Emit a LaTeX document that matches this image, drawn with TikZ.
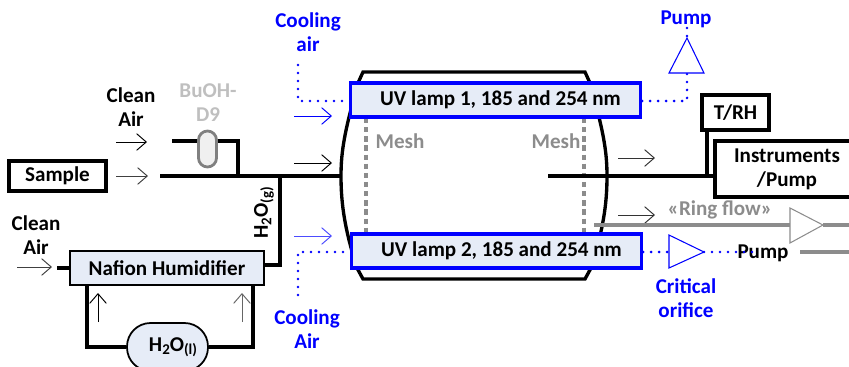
\documentclass[tikz,border=0pt]{standalone}
\usepackage{fontspec}
\setmainfont{Carlito}
\usetikzlibrary{arrows.meta}
\definecolor{lampFill}{HTML}{E6ECF7}
\definecolor{meshGray}{HTML}{8C8C8C}
\definecolor{butanolGray}{HTML}{BFBFBF}
\newcommand{\lowText}[1]{\raisebox{-0.35ex}{\fontsize{8.5}{8.5}\selectfont #1}}
\begin{document}
\begin{tikzpicture}[x=0.02cm,y=-0.02cm,%%
  textStyle/.style={font=\fontsize{12}{13.6}\selectfont\bfseries,align=center,inner sep=0pt},%%
  blueText/.style={textStyle,text=blue},%%
  grayText/.style={textStyle,text=meshGray},%%
  lineStyle/.style={-,line width=1.9pt,line join=miter},%%
  flowStyle/.style={-{Straight Barb[length=5.5pt,width=9.5pt]},line width=0.55pt},%%
  dotStyle/.style={-,blue,line width=1.6pt,line cap=round,dash pattern=on 0pt off 4.55pt},%%
  boxStyle/.style={draw,line width=2.4pt,fill=white,inner sep=0pt,textStyle},%%
  lampStyle/.style={draw=blue,line width=1.9pt,fill=lampFill,inner sep=0pt,textStyle,minimum width=5.8cm,minimum height=0.68cm},%%
  orificeStyle/.style={draw=blue,line width=0.6pt,fill=white}%%
]
%%
\useasboundingbox (0,0) rectangle (849,366);
\clip (0,0) rectangle (849,366);
%%
%% Flow arrows: name/start x/end x/y/colour.
\foreach \name/\xa/\ya/\xb/\yb/\col in {%%
  airIn/116/142/147/142/black,%%
  sampleIn/116/176/148/176/black!75,%%
  humidIn/17/267/52/267/black!75,%%
  loopLeft/98/322/98/293/black,%%
  loopRight/242/322/242/293/black!60,%%
  chamberIn/294/163/332/163/black,%%
  coolTop/294/116/332/116/blue,%%
  coolLow/294/236/332/236/blue!70,%%
  chamberOut/618/158/655/158/black!80,%%
  ringOut/618/215/655/215/black!80%%
}{%%
  \coordinate (\name A) at (\xa,\ya);
  \coordinate (\name B) at (\xb,\yb);
  \draw[flowStyle,\col] (\name A) -- (\name B);
}
%%
\coordinate (sampleLine) at (160,176);
\coordinate (chamberPort) at (342,176);
\coordinate (outPort) at (548,176);
\coordinate (butanolStart) at (172,141);
\coordinate (butanolCorner) at (238,141);
\coordinate (butanolJoin) at (238,176);
\coordinate (waterJoin) at (280,176);
\coordinate (waterCorner) at (280,265);
\coordinate (humidStub) at (57,268);
\coordinate (loopLeftUp) at (87,285);
\coordinate (loopLeftLow) at (87,347);
\coordinate (loopRightUp) at (253,285);
\coordinate (loopRightLow) at (253,347);
\coordinate (sensorDrop) at (707,176);
\coordinate (sensorUp) at (707,130);
%%
%% Draw the chamber.
\draw[lineStyle] (363,72) -- (585,72) -- (590,83)
  .. controls (603,130) and (607,150) .. (607,176)
  .. controls (607,205) and (603,230) .. (591,268) -- (585,279) -- (363,279) -- (357,268)
  .. controls (345,230) and (341,205) .. (341,176)
  .. controls (341,150) and (345,130) .. (358,83) -- cycle;
%%
%% Draw the meshes.
\coordinate (meshLeftTop) at (366,118);
\coordinate (meshLeftLow) at (366,233);
\coordinate (meshRightTop) at (584,118);
\coordinate (meshRightLow) at (584,233);
\draw[meshGray,line width=1.9pt,dash pattern=on 3pt off 2.2pt] (meshLeftTop) -- (meshLeftLow);
\draw[meshGray,line width=1.9pt,dash pattern=on 3pt off 2.2pt] (meshRightTop) -- (meshRightLow);
\node[grayText] (meshLeft) at (400,141) {Mesh};
\node[grayText] (meshRight) at (556,141) {Mesh};
%%
%% Boxes.
\node[boxStyle,minimum width=1.94cm,minimum height=0.6cm] (sample) at (57.5,176) {Sample};
\node[draw,line width=1pt,fill=lampFill,inner sep=0pt,textStyle,minimum width=3.88cm,minimum height=0.68cm] (humidifier) at (167,268) {Nafion Humidifier};
\node[boxStyle,minimum width=1.34cm,minimum height=0.7cm] (sensor) at (735.5,112.5) {T/RH};
\node[boxStyle,minimum width=2.88cm,minimum height=1.12cm] (instruments) at (787,169) {Instruments\\/Pump};
\node[lampStyle] (lampOne) at (495.5,100) {\hspace*{0.2cm}UV lamp 1, 185 and 254 nm};
\node[lampStyle] (lampTwo) at (496.5,251) {\hspace*{0.2cm}UV lamp 2, 185 and 254 nm};
\node[draw,line width=1pt,fill=lampFill,inner sep=0pt,minimum width=1.62cm,minimum height=0.96cm,rounded corners=0.47cm] (water) at (167.5,347) {};
\node[textStyle] (waterLabel) at (173,347) {H\lowText{2}O\lowText{(l)}};
%%
%% Sample and water lines.
\draw[lineStyle] (sampleLine) -- (chamberPort);
\draw[lineStyle] (butanolStart) -- (butanolCorner) -- (butanolJoin);
\draw[lineStyle] (waterJoin) -- (waterCorner) -- (humidifier.east |- waterCorner);
\draw[lineStyle] (humidStub) -- (humidifier.west |- humidStub);
\draw[lineStyle] (loopLeftUp) -- (loopLeftLow) -- (water.west |- loopLeftLow);
\draw[lineStyle] (loopRightUp) -- (loopRightLow) -- (water.east |- loopRightLow);
\draw[lineStyle] (outPort) -- (instruments.west |- outPort);
\draw[lineStyle] (sensorDrop) -- (sensorUp);
%%
%% The butanol vessel.
\node[draw=black!50,line width=1.6pt,fill=black!6,minimum width=0.36cm,minimum height=0.72cm,rounded corners=0.18cm,inner sep=0pt] (butanol) at (207.5,149) {};
%%
%% The ring flow line, with its pump.
\coordinate (ringStart) at (594,225);
\coordinate (ringTipA) at (790,208);
\coordinate (ringTipB) at (790,243);
\coordinate (ringTip) at (823,225);
\coordinate (ringEnd) at (849,225);
\coordinate (ringMid) at (790,225);
\draw[meshGray,line width=1.9pt] (ringStart) -- (ringMid);
\draw[meshGray,line width=1.9pt] (ringTip) -- (ringEnd);
\draw[black!45,line width=0.6pt,fill=white] (ringTipA) -- (ringTip) -- (ringTipB) -- cycle;
\node[grayText] (ringFlow) at (720,210) {«Ring flow»};
%%
%% The second pump line.
\node[textStyle] (pumpLow) at (763,253) {Pump};
\coordinate (pumpLine) at (800,252);
\coordinate (pumpEnd) at (849,252);
\draw[meshGray,line width=1.9pt] (pumpLine) -- (pumpEnd);
%%
%% Cooling air.
\coordinate (coolTopFar) at (298,65);
\coordinate (coolTopBend) at (298,101);
\coordinate (coolLowFar) at (298,295);
\coordinate (coolLowBend) at (298,252);
\draw[dotStyle] (coolTopFar) -- (coolTopBend) -- (lampOne.west |- coolTopBend);
\draw[dotStyle] (coolLowFar) -- (coolLowBend) -- (lampTwo.west |- coolLowBend);
\node[blueText] (coolingTop) at (308,32) {Cooling\\air};
\node[blueText] (coolingLow) at (307,329.5) {Cooling\\Air};
%%
%% Pump and critical orifice on the lamps.
\coordinate (pumpApex) at (687,38);
\coordinate (pumpBaseA) at (669,73);
\coordinate (pumpBaseB) at (704,73);
\coordinate (pumpBase) at (687,73);
\coordinate (pumpBend) at (687,101);
\coordinate (pumpTop) at (687,28);
\coordinate (orificeA) at (669,235);
\coordinate (orificeB) at (669,268);
\coordinate (orificeTip) at (704,252);
\coordinate (orificeMid) at (669,252);
\coordinate (pumpDots) at (752,252);
\draw[dotStyle] (lampOne.east |- pumpBend) -- (pumpBend) -- (pumpBase);
\draw[dotStyle] (pumpTop) -- (pumpApex);
\draw[dotStyle] (lampTwo.east |- orificeMid) -- (orificeMid);
\draw[dotStyle] (orificeTip) -- (pumpDots);
\draw[orificeStyle] (pumpApex) -- (pumpBaseA) -- (pumpBaseB) -- cycle;
\draw[orificeStyle] (orificeA) -- (orificeTip) -- (orificeB) -- cycle;
\node[blueText] (pumpHigh) at (686,19) {Pump};
\node[blueText] (orifice) at (686,298) {Critical\\orifice};
%%
%% Remaining labels.
\node[textStyle] (cleanAirHigh) at (131,107) {Clean\\Air};
\node[textStyle] (cleanAirLow) at (36,235.5) {Clean\\Air};
\node[textStyle,text=butanolGray] (butanolLabel) at (208,103) {BuOH-\\D9};
\node[textStyle,rotate=90] (vapour) at (264,213) {H\lowText{2}O\lowText{(g)}};
\end{tikzpicture}
\end{document}
